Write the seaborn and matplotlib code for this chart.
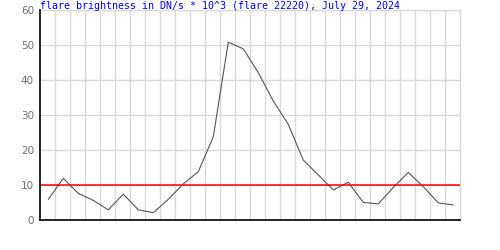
import matplotlib
matplotlib.use("Agg")
import matplotlib.pyplot as plt
import seaborn as sns
import pandas as pd
import numpy as np

# data
sample_index = list(range(28))
brightness = [5.9, 11.9, 7.6, 5.6, 2.9, 7.4, 2.9, 2.1, 5.9, 10.3,
              13.8, 23.8, 50.8, 48.9, 42.1, 34.0, 27.3, 17.1, 12.9, 8.6,
              10.8, 5.0, 4.6, 9.3, 13.6, 9.5, 4.9, 4.3]
threshold = 10
y_ticks = [0, 10, 20, 30, 40, 50, 60]
title = "flare brightness in DN/s * 10^3 (flare 22220), July 29, 2024"

df = pd.DataFrame({"t": sample_index, "v": brightness})

sns.set_style("white")
plt.rcParams["font.family"] = ["DejaVu Sans"]

fig = plt.figure(figsize=(5, 2.5), dpi=100)
ax = fig.add_axes([40/500, 30/250, 420/500, 210/250])

grid_color = "#d9d9d9"
# vertical gridlines every 15 px
xgrid = [0.447 + n for n in range(28)]
ax.set_xticks(xgrid)
ax.set_xticklabels([])
ax.set_yticks(y_ticks)
ax.set_yticklabels([str(t) for t in y_ticks], color="#707070", fontsize=7.5)
ax.tick_params(axis="both", length=0)
ax.tick_params(axis="y", pad=4.3)
ax.grid(True, color=grid_color, linewidth=1.0)
ax.set_axisbelow(True)

sns.lineplot(data=df, x="t", y="v", ax=ax, color="#555555", linewidth=0.8)
ax.axhline(threshold, color="#ff0000", linewidth=1.1, zorder=3)

ax.set_xlim(-0.553, 27.447)
ax.set_ylim(0, 60)
ax.set_xlabel("")
ax.set_ylabel("")

for side in ["top", "right"]:
    ax.spines[side].set_color(grid_color)
    ax.spines[side].set_linewidth(1.0)
for side in ["left", "bottom"]:
    ax.spines[side].set_color("black")
    ax.spines[side].set_linewidth(1.2)
    ax.spines[side].set_zorder(4)

fig.text(40/500, 1 - 1/250, title, ha="left", va="top",
         color="#0000ff", fontsize=7.2, family="DejaVu Sans Mono")

fig.savefig("out.png", dpi=100)
